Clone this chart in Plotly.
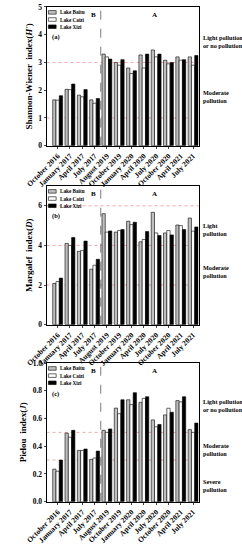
import plotly.graph_objects as go

CATEGORIES = ["October 2016", "January 2017", "April 2017", "July 2017", "August 2019",
              "October 2019", "January 2020", "April 2020", "July 2020", "October 2020",
              "April 2021", "July 2021"]
LAKES = ["Lake Baitu", "Lake Caizi", "Lake Xizi"]
COLORS = ["#c0c0c0", "#ffffff", "#000000"]

SHANNON_BAITU = [1.65, 2.03, 1.82, 1.65, 3.30, 3.00, 2.80, 3.27, 3.45, 3.08, 3.20, 3.20]
SHANNON_CAIZI = [1.64, 2.02, 1.76, 1.53, 3.20, 2.90, 2.60, 2.80, 3.20, 2.95, 3.08, 2.90]
SHANNON_XIZI = [1.80, 2.22, 2.02, 1.70, 3.12, 3.10, 2.70, 3.30, 3.30, 3.00, 3.10, 3.25]

MARGALEF_BAITU = [2.08, 4.10, 3.70, 2.80, 5.60, 4.67, 5.22, 4.18, 5.67, 4.63, 5.03, 5.38]
MARGALEF_CAIZI = [2.18, 4.00, 3.75, 3.00, 4.67, 4.75, 5.05, 4.30, 4.63, 4.75, 5.00, 4.72]
MARGALEF_XIZI = [2.35, 4.40, 4.22, 3.30, 4.73, 4.80, 5.17, 4.70, 4.50, 4.53, 4.80, 4.93]

PIELOU_BAITU = [0.235, 0.495, 0.37, 0.305, 0.515, 0.675, 0.735, 0.716, 0.59, 0.626, 0.729, 0.52]
PIELOU_CAIZI = [0.22, 0.465, 0.37, 0.315, 0.50, 0.635, 0.70, 0.745, 0.54, 0.674, 0.72, 0.50]
PIELOU_XIZI = [0.30, 0.515, 0.38, 0.365, 0.525, 0.735, 0.786, 0.757, 0.557, 0.645, 0.757, 0.567]

THRESH_A = [1, 3]
THRESH_B = [2, 4, 6]
THRESH_C = [0.3, 0.5]

W, H = 242, 550
FONT = "Liberation Serif"
def fx(p):
    return p / W
def fy(p):
    return 1 - p / H

X = list(range(1, len(CATEGORIES) + 1))

panels = [
    dict(data=[SHANNON_BAITU, SHANNON_CAIZI, SHANNON_XIZI], top=3, bot=144, rng=[0, 5], dtick=1, fmt="d",
         title="Shannon-Wiener  index(<i>H'</i>)", thr=THRESH_A, tag="(a)",
         right=[("Light pollution<br>or no pollution", 38), ("Moderate<br>pollution", 94)]),
    dict(data=[MARGALEF_BAITU, MARGALEF_CAIZI, MARGALEF_XIZI], top=185, bot=326, rng=[0, 7], dtick=2, fmt="d",
         title="Margalef  index(<i>D</i>)", thr=THRESH_B, tag="(b)",
         right=[("Light<br>pollution", 229), ("Moderate<br>pollution", 272)]),
    dict(data=[PIELOU_BAITU, PIELOU_CAIZI, PIELOU_XIZI], top=365, bot=506, rng=[0, 1], dtick=0.2, fmt=".1f",
         title="Pielou  index(<i>J</i>)", thr=THRESH_C, tag="(c)",
         right=[("Light pollution<br>or no pollution", 408), ("Moderate<br>pollution", 453),
                ("Severe<br>pollution", 490)]),
]

fig = go.Figure()
shapes = []
annotations = []
XL, XR = 28, 194.5

for i, p in enumerate(panels):
    n = "" if i == 0 else str(i + 1)
    xa, ya = "x" + n, "y" + n
    for j in range(3):
        fig.add_trace(go.Bar(x=X, y=p["data"][j], name=LAKES[j], marker=dict(color=COLORS[j],
                             line=dict(color="#000000", width=0.6)),
                             xaxis=xa, yaxis=ya, showlegend=False))
    fig.layout["xaxis" + n] = dict(domain=[fx(XL), fx(XR)], range=[0.1, 12.45], anchor=ya,
                                   tickvals=X, ticktext=CATEGORIES, tickangle=-45,
                                   ticks="outside", ticklen=2, showline=True, linecolor="black",
                                   linewidth=1, mirror=True, showgrid=False, zeroline=False,
                                   tickfont=dict(family=FONT, size=7.5, color="black", weight="bold"))
    fig.layout["yaxis" + n] = dict(domain=[fy(p["bot"]), fy(p["top"])], range=p["rng"], anchor=xa,
                                   dtick=p["dtick"], tick0=0, tickformat=p["fmt"],
                                   ticks="outside", ticklen=2, showline=True, linecolor="black",
                                   linewidth=1, mirror=True, showgrid=False, zeroline=False,
                                   tickfont=dict(family=FONT, size=7.5, color="black", weight="bold"),
                                   title=dict(text=p["title"], standoff=4,
                                              font=dict(family=FONT, size=9, color="black", weight="bold")))
    for t in p["thr"]:
        shapes.append(dict(type="line", xref=xa + " domain", x0=0, x1=1, yref=ya, y0=t, y1=t,
                           line=dict(color="rgba(235,110,110,0.6)", width=1, dash="dot"), layer="below"))
    shapes.append(dict(type="line", xref=xa, x0=4.5, x1=4.5, yref=ya + " domain", y0=0, y1=1,
                       line=dict(color="#444444", width=0.7, dash="dash")))
    # legend
    for j in range(3):
        yy = p["top"] + 5.5 + j * 7.3
        shapes.append(dict(type="rect", xref="paper", yref="paper", x0=fx(30), x1=fx(38.5),
                           y0=fy(yy + 1.8), y1=fy(yy - 1.8), fillcolor=COLORS[j],
                           line=dict(color="black", width=0.6)))
        annotations.append(dict(xref="paper", yref="paper", x=fx(40), y=fy(yy), text=LAKES[j],
                                showarrow=False, xanchor="left", yanchor="middle",
                                font=dict(family=FONT, size=5.2, color="black", weight="bold")))
    annotations.append(dict(xref="paper", yref="paper", x=fx(32), y=fy(p["top"] + 31), text=p["tag"],
                            showarrow=False, xanchor="left", yanchor="middle",
                            font=dict(family=FONT, size=6.5, color="black", weight="bold")))
    annotations.append(dict(xref="paper", yref="paper", x=fx(79), y=fy(p["top"] + 8), text="B",
                            showarrow=False, xanchor="center", yanchor="middle",
                            font=dict(family=FONT, size=7, color="black", weight="bold")))
    annotations.append(dict(xref="paper", yref="paper", x=fx(146), y=fy(p["top"] + 8.5), text="A",
                            showarrow=False, xanchor="center", yanchor="middle",
                            font=dict(family=FONT, size=7, color="black", weight="bold")))
    for txt, yy in p["right"]:
        annotations.append(dict(xref="paper", yref="paper", x=fx(197), y=fy(yy), text=txt,
                                showarrow=False, xanchor="left", yanchor="middle", align="left",
                                font=dict(family=FONT, size=6.2, color="black", weight="bold")))

fig.update_layout(width=W, height=H, autosize=False, margin=dict(l=0, r=0, t=0, b=0),
                  paper_bgcolor="white", plot_bgcolor="white", barmode="group",
                  bargap=0.2, bargroupgap=0.0, showlegend=False,
                  shapes=shapes, annotations=annotations,
                  font=dict(family=FONT, color="black"))

fig.write_html("out.html", config={"displayModeBar": False},
               post_script="document.body.style.margin='0px';document.body.style.overflow='hidden';")
